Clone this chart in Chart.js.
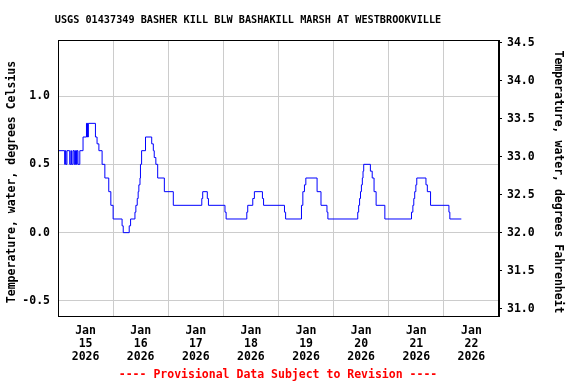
<!DOCTYPE html>
<html>
<head>
<meta charset="utf-8">
<script src="https://cdn.jsdelivr.net/npm/chart.js@4/dist/chart.umd.min.js"></script>
<style>
  html, body { margin: 0; padding: 0; background: #fff; }
  #wrap { width: 576px; height: 384px; }
</style>
</head>
<body>
<div id="wrap"><canvas id="myChart" width="576" height="384"></canvas></div>
<script>
// heures depuis le 15 janvier 00:00, et temperature (degres C) a partir de cette heure
var heures = [0, 2.9, 3.2, 3.45, 3.9, 5.1, 5.6, 5.85, 6.5, 7.0, 7.3, 7.6, 7.9, 8.1, 8.3, 8.7, 9.5,
    10.9, 12.4, 12.6, 12.8, 13.0, 13.2, 16.3, 17.0, 17.8, 19.2, 20.4, 22.1, 23.0, 24.0,
    27.9, 28.4, 31.0, 31.6, 33.5, 33.9, 34.5, 34.9, 35.2, 35.7, 35.9, 36.4, 38.1,
    40.8, 41.5, 41.9, 42.6, 43.4, 46.3, 50.2,
    62.6, 63.0, 65.0, 65.5, 72.7, 73.2, 82.2, 82.6, 84.8, 85.5, 89.0, 89.5, 98.6, 99.1,
    106.0, 106.6, 107.3, 107.9, 112.8, 114.5, 117.1, 117.5,
    130.5, 130.9, 131.3, 131.7, 132.1, 132.5, 132.8, 133.1, 136.0, 136.8, 137.6, 138.5, 142.3,
    153.9, 154.5, 154.9, 155.3, 155.8, 156.2, 160.2, 160.8, 162.2, 170.2, 170.6, 175.6];
var tempC = [0.6, 0.5, 0.6, 0.5, 0.6, 0.5, 0.6, 0.5, 0.6, 0.5, 0.6, 0.5, 0.6, 0.5, 0.6, 0.5, 0.6,
    0.7, 0.8, 0.7, 0.8, 0.7, 0.8, 0.7, 0.65, 0.6, 0.5, 0.4, 0.3, 0.2, 0.1,
    0.05, 0.0, 0.05, 0.1, 0.15, 0.2, 0.25, 0.3, 0.35, 0.4, 0.5, 0.6, 0.7,
    0.65, 0.6, 0.55, 0.5, 0.4, 0.3, 0.2,
    0.25, 0.3, 0.25, 0.2, 0.15, 0.1, 0.15, 0.2, 0.25, 0.3, 0.25, 0.2, 0.15, 0.1,
    0.2, 0.3, 0.35, 0.4, 0.3, 0.2, 0.15, 0.1,
    0.15, 0.2, 0.25, 0.3, 0.35, 0.4, 0.45, 0.5, 0.45, 0.4, 0.3, 0.2, 0.1,
    0.15, 0.2, 0.25, 0.3, 0.35, 0.4, 0.35, 0.3, 0.2, 0.15, 0.1, 0.1];

var jours   = ['15', '16', '17', '18', '19', '20', '21', '22'];
var mois    = 'Jan';
var annee   = '2026';
var ticksC  = [-0.5, 0.0, 0.5, 1.0];
var ticksF  = [31.0, 31.5, 32.0, 32.5, 33.0, 33.5, 34.0, 34.5];

var titre    = 'USGS 01437349 BASHER KILL BLW BASHAKILL MARSH AT WESTBROOKVILLE';
var titreG   = 'Temperature, water, degrees Celsius';
var titreD   = 'Temperature, water, degrees Fahrenheit';
var mention  = '---- Provisional Data Subject to Revision ----';

var minC = -0.61, maxC = 1.41;
var police = 'DejaVu Sans Mono';

var points = heures.map(function(h, i) { return { x: h, y: tempC[i] }; });

var ticksX = [];
for (var h = 0; h <= 192; h += 12) ticksX.push({ value: h });

var textes = {
    id: 'textes',
    afterDraw: function(chart) {
        var ctx = chart.ctx;
        var a = chart.chartArea;
        ctx.save();
        ctx.strokeStyle = '#000';
        ctx.lineWidth = 1;
        ctx.strokeRect(Math.round(a.left) + 0.5, Math.round(a.top) + 0.5,
            Math.round(a.right - a.left) - 1, Math.round(a.bottom - a.top));
        ctx.fillStyle = '#000';
        ctx.textAlign = 'center';
        ctx.textBaseline = 'middle';
        ctx.font = 'bold 10.2px "' + police + '"';
        ctx.fillText(titre, 248, 20);
        ctx.font = 'bold 11.5px "' + police + '"';
        ctx.save();
        ctx.translate(12, 182);
        ctx.rotate(-Math.PI / 2);
        ctx.fillText(titreG, 0, 0);
        ctx.restore();
        ctx.save();
        ctx.translate(558, 182);
        ctx.rotate(Math.PI / 2);
        ctx.fillText(titreD, 0, 0);
        ctx.restore();
        ctx.fillStyle = '#ff0000';
        ctx.fillText(mention, 278, 375);
        ctx.restore();
    }
};

var canvas  = document.getElementById('myChart');
var context = canvas.getContext('2d');

var myChart = new Chart(context, {
    type: 'line',
    data: {
        datasets: [{
            data: points,
            borderColor: '#0000ff',
            borderWidth: 1,
            pointRadius: 0,
            fill: false,
            stepped: 'before'
        }]
    },
    options: {
        responsive: false,
        animation: false,
        layout: { padding: { top: 40 } },
        plugins: {
            legend: { display: false },
            tooltip: { enabled: false }
        },
        scales: {
            x: {
                type: 'linear',
                min: 0,
                max: 192,
                afterBuildTicks: function(scale) { scale.ticks = ticksX.slice(); },
                afterFit: function(scale) { scale.height = 68; },
                grid: {
                    color: function(c) {
                        return (c.tick && c.tick.value % 24 === 0) ? '#cccccc' : 'rgba(0,0,0,0)';
                    },
                    drawTicks: false
                },
                border: { color: '#000' },
                ticks: {
                    autoSkip: false,
                    maxRotation: 0,
                    padding: 9,
                    color: '#000',
                    font: { family: police, size: 11.5, weight: 'bold', lineHeight: 1.12 },
                    callback: function(v) {
                        if (v % 24 !== 12) return '';
                        var j = jours[Math.floor(v / 24)];
                        return j ? [mois, j, annee] : '';
                    }
                }
            },
            y: {
                type: 'linear',
                position: 'left',
                min: minC,
                max: maxC,
                afterBuildTicks: function(scale) {
                    scale.ticks = ticksC.map(function(v) { return { value: v }; });
                },
                afterFit: function(scale) { scale.width = 58; },
                grid: { color: '#cccccc', drawTicks: false },
                border: { color: '#000' },
                ticks: {
                    padding: 8,
                    color: '#000',
                    font: { family: police, size: 11.5, weight: 'bold' },
                    callback: function(v) { return v.toFixed(1); }
                }
            },
            y2: {
                type: 'linear',
                position: 'right',
                min: 32 + 1.8 * minC,
                max: 32 + 1.8 * maxC,
                afterBuildTicks: function(scale) {
                    scale.ticks = ticksF.map(function(v) { return { value: v }; });
                },
                afterFit: function(scale) { scale.width = 77; },
                grid: { drawOnChartArea: false, drawTicks: true, tickLength: 3, color: '#000' },
                border: { color: '#000' },
                ticks: {
                    padding: 5,
                    color: '#000',
                    font: { family: police, size: 11.5, weight: 'bold' },
                    callback: function(v) { return v.toFixed(1); }
                }
            }
        }
    },
    plugins: [textes]
});
</script>
</body>
</html>
